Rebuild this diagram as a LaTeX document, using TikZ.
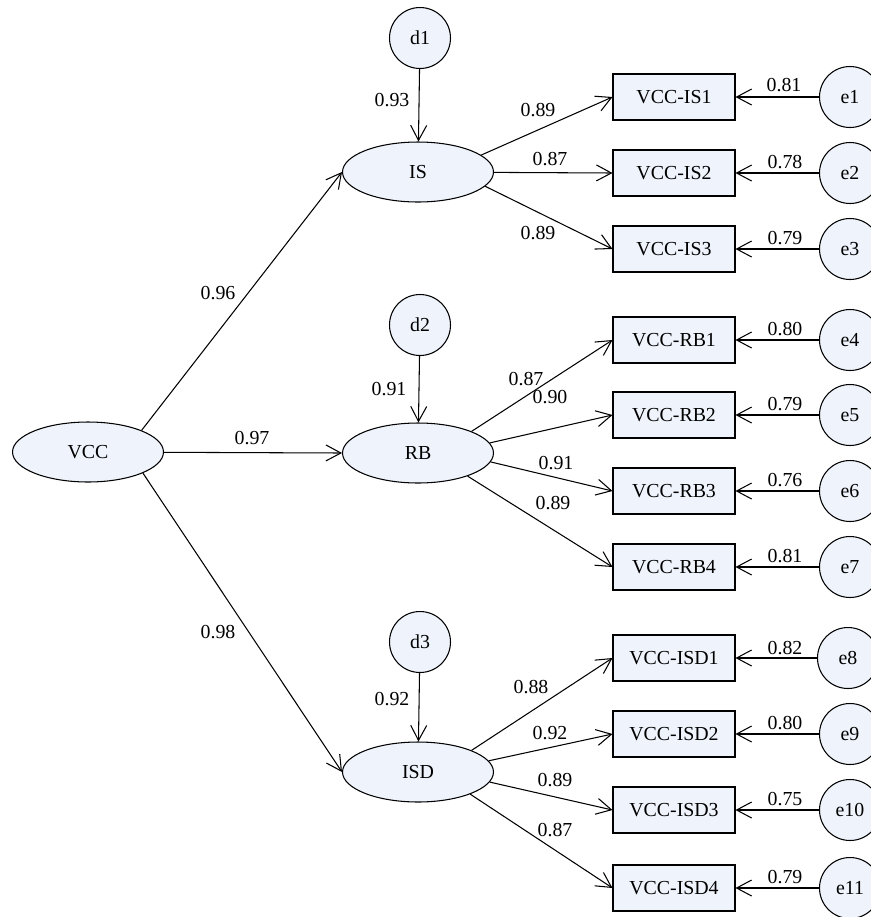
\documentclass[tikz,border=0pt]{standalone}
\usepackage{fontspec}
\setmainfont{Liberation Serif}
\usetikzlibrary{shapes.geometric, arrows.meta}
\definecolor{semfill}{RGB}{239, 243, 251}

\begin{document}
\begin{tikzpicture}[
    x=0.02cm, y=-0.02cm,
    font=\fontsize{11.3}{13}\selectfont,
    latent/.style={ellipse, draw, line width=0.6pt, fill=semfill, inner sep=0pt, minimum width=3.02cm, minimum height=1.2cm},
    item/.style={rectangle, draw, line width=0.6pt, fill=semfill, inner sep=0pt, minimum width=2.44cm, minimum height=0.92cm},
    resid/.style={circle, draw, line width=0.6pt, fill=semfill, inner sep=0pt, minimum size=1.22cm},
    coef/.style={inner sep=1pt},
    arrow/.style={-{Straight Barb[length=3mm, width=3.2mm]}, line width=0.6pt}
]
    \useasboundingbox (0,0) rectangle (870,917);

    % Second-order factor
    \node[latent] (vcc) at (88, 452) {VCC};

    % First-order factors
    \node[latent] (is) at (418, 172) {IS};
    \node[latent] (rb) at (418, 453) {RB};
    \node[latent] (isd) at (418, 772) {ISD};

    % Disturbances
    \node[resid] (d1) at (420, 38) {d1};
    \node[resid] (d2) at (420, 325) {d2};
    \node[resid] (d3) at (420, 642) {d3};

    % Observed items
    \node[item] (is1) at (674, 97) {VCC-IS1};
    \node[item] (is2) at (674, 173) {VCC-IS2};
    \node[item] (is3) at (674, 249) {VCC-IS3};
    \node[item] (rb1) at (674, 340) {VCC-RB1};
    \node[item] (rb2) at (674, 415) {VCC-RB2};
    \node[item] (rb3) at (674, 491) {VCC-RB3};
    \node[item] (rb4) at (674, 567) {VCC-RB4};
    \node[item] (isd1) at (674, 658) {VCC-ISD1};
    \node[item] (isd2) at (674, 734) {VCC-ISD2};
    \node[item] (isd3) at (674, 810) {VCC-ISD3};
    \node[item] (isd4) at (674, 888) {VCC-ISD4};

    % Measurement errors
    \node[resid] (e1) at (850, 97) {e1};
    \node[resid] (e2) at (850, 173) {e2};
    \node[resid] (e3) at (850, 249) {e3};
    \node[resid] (e4) at (850, 340) {e4};
    \node[resid] (e5) at (850, 415) {e5};
    \node[resid] (e6) at (850, 491) {e6};
    \node[resid] (e7) at (850, 567) {e7};
    \node[resid] (e8) at (848, 658) {e8};
    \node[resid] (e9) at (850, 734) {e9};
    \node[resid] (e10) at (850, 810) {e10};
    \node[resid] (e11) at (850, 888) {e11};

    % Structural paths
    \draw[arrow] (vcc.22) -- (is.west);
    \draw[arrow] (vcc) -- (rb.west);
    \draw[arrow] (vcc.-21) -- (isd.west);
    \draw[arrow] (d1) -- (is);
    \draw[arrow] (d2) -- (rb);
    \draw[arrow] (d3) -- (isd);

    % Loadings
    \draw[arrow] (is.15) -- (is1.west);
    \draw[arrow] (is) -- (is2.west);
    \draw[arrow] (is.-12) -- (is3.west);
    \draw[arrow] (rb.22) -- (rb1.west);
    \draw[arrow] (rb.8) -- (rb2.west);
    \draw[arrow] (rb.-7) -- (rb3.west);
    \draw[arrow] (rb.-25) -- (rb4.west);
    \draw[arrow] (isd.22) -- (isd1.west);
    \draw[arrow] (isd.9) -- (isd2.west);
    \draw[arrow] (isd.-8) -- (isd3.west);
    \draw[arrow] (isd.-23) -- (isd4.west);

    % Error paths
    \draw[arrow] (e1) -- (is1);
    \draw[arrow] (e2) -- (is2);
    \draw[arrow] (e3) -- (is3);
    \draw[arrow] (e4) -- (rb1);
    \draw[arrow] (e5) -- (rb2);
    \draw[arrow] (e6) -- (rb3);
    \draw[arrow] (e7) -- (rb4);
    \draw[arrow] (e8) -- (isd1);
    \draw[arrow] (e9) -- (isd2);
    \draw[arrow] (e10) -- (isd3);
    \draw[arrow] (e11) -- (isd4);

    % Coefficients
    \node[coef] (c-is) at (218, 293) {0.96};
    \node[coef] (c-rb) at (252, 438) {0.97};
    \node[coef] (c-isd) at (218, 632) {0.98};
    \node[coef] (c-d1) at (392, 100) {0.93};
    \node[coef] (c-d2) at (389, 389) {0.91};
    \node[coef] (c-d3) at (392, 699) {0.92};

    \node[coef] (c-is1) at (538, 110) {0.89};
    \node[coef] (c-is2) at (550, 159) {0.87};
    \node[coef] (c-is3) at (538, 233) {0.89};
    \node[coef] (c-rb1) at (526, 379) {0.87};
    \node[coef] (c-rb2) at (550, 397) {0.90};
    \node[coef] (c-rb3) at (556, 463) {0.91};
    \node[coef] (c-rb4) at (553, 503) {0.89};
    \node[coef] (c-isd1) at (531, 687) {0.88};
    \node[coef] (c-isd2) at (550, 733) {0.92};
    \node[coef] (c-isd3) at (555, 780) {0.89};
    \node[coef] (c-isd4) at (555, 830) {0.87};

    \node[coef] (c-e1) at (784, 85) {0.81};
    \node[coef] (c-e2) at (785, 162) {0.78};
    \node[coef] (c-e3) at (785, 238) {0.79};
    \node[coef] (c-e4) at (785, 329) {0.80};
    \node[coef] (c-e5) at (785, 404) {0.79};
    \node[coef] (c-e6) at (785, 480) {0.76};
    \node[coef] (c-e7) at (785, 556) {0.81};
    \node[coef] (c-e8) at (785, 648) {0.82};
    \node[coef] (c-e9) at (785, 723) {0.80};
    \node[coef] (c-e10) at (785, 799) {0.75};
    \node[coef] (c-e11) at (785, 877) {0.79};
\end{tikzpicture}
\end{document}
